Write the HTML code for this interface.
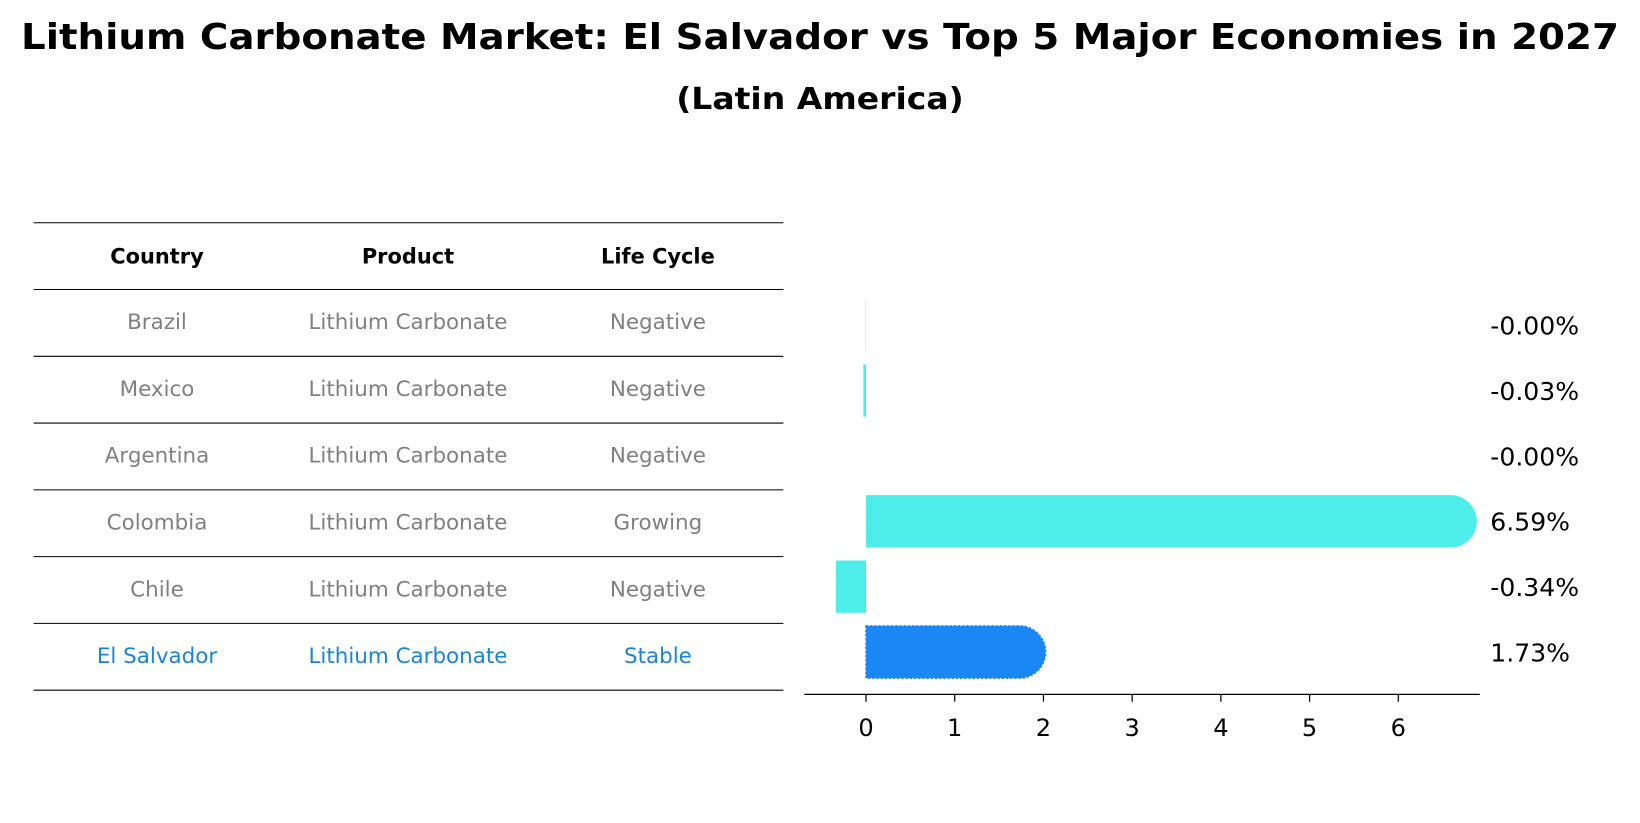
<!DOCTYPE html>
<html><head><meta charset="utf-8"><style>
html,body{margin:0;padding:0;background:#fff;}
svg{display:block;font-family:"DejaVu Sans","Liberation Sans",sans-serif;}
</style></head><body>
<svg id="chart" width="1640" height="823" viewBox="0 0 1568 787" xmlns="http://www.w3.org/2000/svg">
<text x="784" y="47" text-anchor="middle" font-size="34" font-weight="bold" textLength="1528" lengthAdjust="spacingAndGlyphs">Lithium Carbonate Market: El Salvador vs Top 5 Major Economies in 2027</text>
<text x="784" y="104" text-anchor="middle" font-size="29" font-weight="bold" textLength="275" lengthAdjust="spacingAndGlyphs">(Latin America)</text>
<g id="table"></g>
<g id="bars"></g>
</svg>
<script>
const countries = ["Brazil","Mexico","Argentina","Colombia","Chile","El Salvador"];
const products = ["Lithium Carbonate","Lithium Carbonate","Lithium Carbonate","Lithium Carbonate","Lithium Carbonate","Lithium Carbonate"];
const lifeCycles = ["Negative","Negative","Negative","Growing","Negative","Stable"];
const growth = [-0.004, -0.03, 0, 6.59, -0.34, 1.73];
const valueLabels = ["-0.00%","-0.03%","-0.00%","6.59%","-0.34%","1.73%"];
const xTicks = [0,1,2,3,4,5,6];

const NS = "http://www.w3.org/2000/svg";
function mk(tag, attrs, parent){const e=document.createElementNS(NS,tag);for(const k in attrs)e.setAttribute(k,attrs[k]);parent.appendChild(e);return e;}

// table
const tbl = document.getElementById('table');
const colX = [150,390,629];
const rowH = 63.857;
const tTop = 213;
for(let i=0;i<=7;i++){
  const ln = mk('line',{x1:32,x2:749,y1:tTop+i*rowH,y2:tTop+i*rowH,stroke:'#000','stroke-width':1},tbl);
  
  
}
const headers=["Country","Product","Life Cycle"];
headers.forEach((h,j)=>{
  const t=mk('text',{x:colX[j],y:tTop+rowH/2+7,'text-anchor':'middle','font-size':20,'font-weight':'bold'},tbl);
  t.textContent=h;
  
  
});
countries.forEach((c,i)=>{
  const y=tTop+(i+1)*rowH+rowH/2+6;
  const col = c==="El Salvador" ? '#1a85d6' : '#808080';
  [c,products[i],lifeCycles[i]].forEach((v,j)=>{
    const t=mk('text',{x:colX[j],y:y,'text-anchor':'middle','font-size':20.5,fill:col},tbl);
    t.textContent=v;
    
    
  });
});

// bars
const g=document.getElementById('bars');
const x0=828, unit=(1337-828)/6;
const xs=v=>x0+v*unit;
const rowY=i=>311+i*62.5;
const barH=50;
growth.forEach((v,i)=>{
  const isSv = countries[i]==="El Salvador";
  const col = isSv ? '#1a87f5' : '#4deeea';
  const cy=rowY(i);
  const a=xs(Math.min(0,v)), b=xs(Math.max(0,v));
  let el;
  if(v>0.5){
    const r=barH/2;
    el=mk('path',{d:`M${a},${cy-r} L${b},${cy-r} A${r},${r} 0 0 1 ${b},${cy+r} L${a},${cy+r} Z`,fill:col},g);
    if(isSv){el.setAttribute('stroke','#1a87f5');el.setAttribute('stroke-dasharray','2,2');el.setAttribute('stroke-width','1.5');}
  } else {
    el=mk('rect',{x:a,y:cy-barH/2,width:b-a,height:barH,fill:col},g);
  }
  
  
  const t=mk('text',{x:1425,y:cy+9,'font-size':24},g);
  t.textContent=valueLabels[i];
  
  
});
const ax=mk('line',{x1:769,x2:1415,y1:664,y2:664,stroke:'#000','stroke-width':1.3},g);


xTicks.forEach(v=>{
  const tk=mk('line',{x1:xs(v),x2:xs(v),y1:664,y2:671,stroke:'#000','stroke-width':1.2},g);
  
  
  const t=mk('text',{x:xs(v),y:704,'text-anchor':'middle','font-size':23},g);
  t.textContent=String(v);
  
  
});
</script>
</body></html>
